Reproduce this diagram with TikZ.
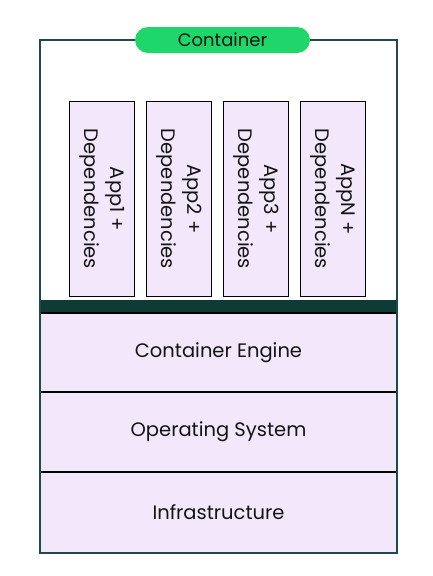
\documentclass[tikz,border=0pt]{standalone}
\usepackage{fontspec}
\setmainfont{Poppins}
\definecolor{framecol}{HTML}{1F4A48}
\definecolor{lav}{HTML}{F3E8FB}
\definecolor{pillgreen}{HTML}{1ED66A}
\definecolor{barcol}{HTML}{0E3B36}
\definecolor{ink}{HTML}{141414}
\begin{document}
\begin{tikzpicture}[x=1pt, y=-1pt,
    layer/.style={draw=black, line width=1.3pt, fill=lav, minimum width=357pt,
        inner sep=0pt, text=ink, font=\fontsize{19.5}{22}\selectfont},
    appbox/.style={draw=black, line width=1.4pt, fill=lav, rotate=-90, align=center,
        minimum width=195pt, minimum height=65pt, inner sep=0pt, text=ink,
        font=\fontsize{19.5}{26}\selectfont},
    pill/.style={fill=pillgreen, rounded corners=13pt, minimum width=175pt,
        minimum height=26pt, inner sep=0pt, text=ink, font=\fontsize{18}{20}\selectfont}]
    \useasboundingbox (0,0) rectangle (433,576);

    % Apps
    \node[appbox] (app1) at (102,199) {App1 +\\Dependencies};
    \node[appbox] (app2) at (179,199) {App2 +\\Dependencies};
    \node[appbox] (app3) at (256,199) {App3 +\\Dependencies};
    \node[appbox] (appn) at (333,199) {AppN +\\Dependencies};

    % Dark strip under the apps
    \node[fill=barcol, minimum width=357pt, minimum height=13pt, inner sep=0pt] (strip) at (218.5,306.5) {};

    % Layers
    \node[layer, minimum height=79pt] (engine) at (218.5,352.5) {Container Engine};
    \node[layer, minimum height=80pt] (os) at (218.5,432) {Operating System};
    \node[layer, minimum height=81pt] (infra) at (218.5,512.5) {Infrastructure};

    % Frame and label
    \draw[framecol, line width=1.6pt] (40,40) rectangle (397,553);
    \node[pill] (label) at (222.5,40) {Container};
\end{tikzpicture}
\end{document}
